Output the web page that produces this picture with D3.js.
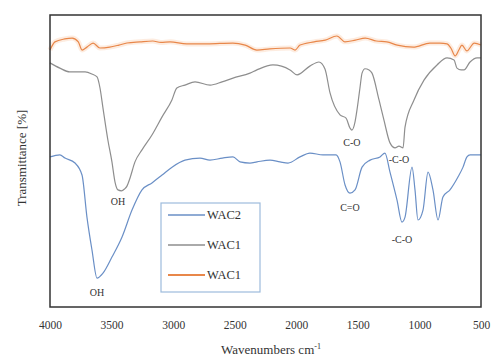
<!DOCTYPE html>
<html>
<head>
<meta charset="utf-8">
<script src="https://cdn.jsdelivr.net/npm/d3@7"></script>
<style>
  html, body { margin: 0; padding: 0; background: #fff; }
  svg text { font-family: "Liberation Serif", "Times New Roman", Times, "DejaVu Serif", serif !important; }
</style>
</head>
<body>
<svg id="chart" width="497" height="363"></svg>
<script>
// FTIR spectra: [wavenumber cm^-1, transmittance %]
const wac2 = [
  [4000,51.4],[3920,52.1],[3878,51],[3797,49.3],[3740,45.2],[3700,30.8],[3659,19.5],[3618,9.9],
  [3570,11.6],[3497,17.1],[3415,24],[3334,33.2],[3253,40.1],[3172,42.5],[3090,45.2],[3009,47.9],
  [2904,50.3],[2782,51],[2701,50.3],[2600,51],[2514,51.4],[2457,49.7],[2376,49.3],[2319,49.7],
  [2213,50.3],[2132,49.7],[2067,49.3],[1970,51.4],[1889,52.7],[1783,52.1],[1677,52.1],[1645,49.7],
  [1604,41.8],[1564,39],[1523,40.1],[1466,47.9],[1401,50.3],[1320,51.4],[1280,52.7],[1239,46.2],
  [1182,36.6],[1142,29.1],[1117,30.8],[1060,47.9],[1036,40.1],[1012,29.8],[971,33.2],[930,46.2],
  [890,40.1],[849,29.8],[809,37.7],[752,40.1],[687,44.5],[646,47.9],[614,51.4],[589,52.1],[500,52.1]
];
const wac1Gray = [
  [4000,83.6],[3920,81.8],[3840,80.5],[3715,80.5],[3660,79.8],[3618,78.8],[3594,75],[3570,68.2],
  [3530,57.2],[3497,49.7],[3472,42.8],[3448,40.1],[3420,39.8],[3395,40.4],[3375,41.4],[3350,44.2],[3310,49.7],
  [3253,53.8],[3172,58.9],[3090,65.1],[3010,70.9],[2970,75],[2904,76],[2822,77.1],[2700,76],
  [2603,77.1],[2514,78.4],[2376,80.1],[2320,81.2],[2190,82.9],[2051,81.2],[1994,79.5],[1890,82.5],
  [1816,83.9],[1767,81.5],[1726,73.3],[1645,65.8],[1596,64.7],[1564,61.3],[1548,60.6],[1523,63.4],
  [1507,67.5],[1483,75],[1466,80.1],[1442,81.6],[1409,81.2],[1385,80.1],[1328,70.9],[1288,64],
  [1239,56.2],[1198,54.5],[1166,55.1],[1133,54.5],[1117,61.6],[1044,70.9],[963,77.7],[857,82.9],
  [776,85.3],[719,84.6],[695,81.8],[662,81.2],[638,81.2],[589,83.9],[532,85.3],[500,85.3]
];
const wac1Orange = [
  [4000,88],[3960,90.8],[3880,91.8],[3820,92.1],[3770,90.8],[3740,88],[3700,89],[3650,90.4],
  [3595,88.7],[3515,89],[3440,89.7],[3375,90.4],[3270,90.8],[3165,91.1],[3100,90.6],[3025,90.8],
  [2890,90.1],[2725,90.1],[2515,90.4],[2415,89.7],[2320,88],[2215,88.4],[2050,88.7],[2010,88],
  [1970,89.7],[1855,90.8],[1765,91.4],[1670,92.8],[1605,90.8],[1520,91.4],[1440,92.1],[1350,91.1],
  [1265,90.8],[1180,89.7],[1050,89],[915,90.4],[835,90.4],[775,90.1],[745,88.7],[710,86],
  [680,88],[655,89.7],[615,87.7],[555,90.4],[500,89.7]
];

const seriesNames = ["WAC2", "WAC1", "WAC1"];
const seriesColors = ["#6a8fc6", "#8e8e8e", "#e8874a"];
const xTicks = [4000, 3500, 3000, 2500, 2000, 1500, 1000, 500];

// Band annotations: [wavenumber, transmittance, text]
const bandLabels = [
  [3448, 36.0, "OH"],
  [3618, 5.1, "OH"],
  [1564, 34.2, "C=O"],
  [1142, 23.1, "-C-O"],
  [1548, 56.5, "C-O"],
  [1166, 50.5, "-C-O"]
];

const svg = d3.select("#chart");
const plot = { left: 50, top: 15, right: 481, bottom: 307 };

const x = d3.scaleLinear().domain([4000, 500]).range([plot.left, plot.right]);
const y = d3.scaleLinear().domain([0, 100]).range([plot.bottom, plot.top]);

const line = d3.line()
  .x(d => x(d[0]))
  .y(d => y(d[1]))
  .curve(d3.curveMonotoneX);

const spectra = [wac2, wac1Gray, wac1Orange];

// soft halo under the orange trace
svg.append("path")
  .datum(wac1Orange)
  .attr("d", line)
  .attr("fill", "none")
  .attr("stroke", "#fbe0cc")
  .attr("stroke-width", 5)
  .attr("stroke-opacity", 0.6);

spectra.forEach((s, i) => {
  svg.append("path")
    .datum(s)
    .attr("d", line)
    .attr("fill", "none")
    .attr("stroke", seriesColors[i])
    .attr("stroke-width", 1.2)
    .attr("stroke-linejoin", "round");
});

// band labels
svg.append("g")
  .selectAll("text")
  .data(bandLabels)
  .join("text")
  .attr("x", d => x(d[0]))
  .attr("y", d => y(d[1]))
  .attr("text-anchor", "middle")
  .attr("dominant-baseline", "central")
  .attr("font-size", 10)
  .attr("fill", "#333")
  .text(d => d[2]);

// plot frame
svg.append("rect")
  .attr("x", plot.left)
  .attr("y", plot.top)
  .attr("width", plot.right - plot.left)
  .attr("height", plot.bottom - plot.top)
  .attr("fill", "none")
  .attr("stroke", "#333")
  .attr("stroke-width", 1.5);

// x axis
const xAxis = d3.axisBottom(x)
  .tickValues(xTicks)
  .tickFormat(d3.format("d"))
  .tickSize(0)
  .tickPadding(14);

const gx = svg.append("g")
  .attr("transform", `translate(0,${plot.bottom})`)
  .call(xAxis);
gx.select(".domain").remove();
gx.selectAll("text")
  .attr("font-size", 11.5)
  .attr("fill", "#333");

// axis titles
const xTitle = svg.append("text")
  .attr("x", 271)
  .attr("y", 354)
  .attr("text-anchor", "middle")
  .attr("font-size", 13)
  .attr("fill", "#333");
xTitle.append("tspan").text("Wavenumbers cm");
xTitle.append("tspan").attr("dy", -5).attr("font-size", 8).text("-1");

svg.append("text")
  .attr("transform", "translate(26,158) rotate(-90)")
  .attr("text-anchor", "middle")
  .attr("font-size", 13)
  .attr("fill", "#333")
  .text("Transmittance [%]");

// legend
const legend = svg.append("g").attr("transform", "translate(161,203)");
legend.append("rect")
  .attr("width", 99)
  .attr("height", 89)
  .attr("fill", "#fff")
  .attr("stroke", "#9dbbdc")
  .attr("stroke-width", 1.2);

const rowY = d3.scalePoint().domain(d3.range(seriesNames.length)).range([12, 72]);
const rows = legend.selectAll("g.row")
  .data(seriesNames)
  .join("g")
  .attr("class", "row")
  .attr("transform", (d, i) => `translate(0,${rowY(i)})`);
rows.append("line")
  .attr("x1", 7).attr("x2", 44)
  .attr("stroke", (d, i) => seriesColors[i])
  .attr("stroke-width", (d, i) => i === 2 ? 2 : 1.3);
rows.append("text")
  .attr("x", 46)
  .attr("dominant-baseline", "central")
  .attr("font-size", 12.5)
  .attr("fill", "#333")
  .text(d => d);
</script>
</body>
</html>
